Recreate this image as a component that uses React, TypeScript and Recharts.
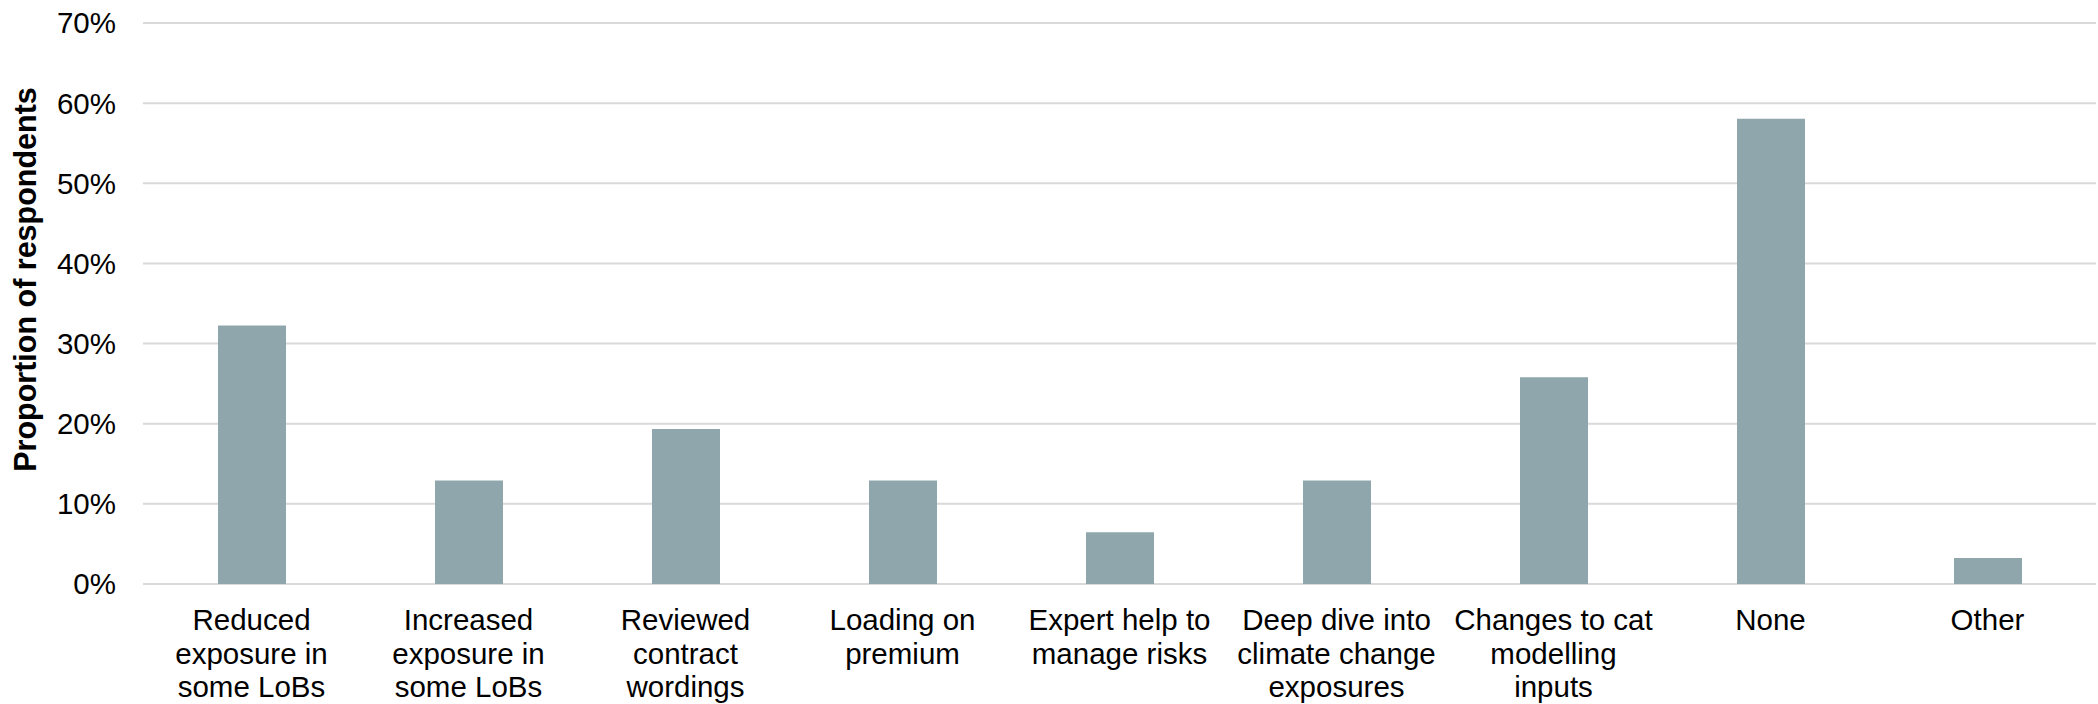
import React from "react";
import { BarChart, Bar, XAxis, YAxis, CartesianGrid } from "recharts";

// Survey responses: actions taken in response to climate change (share of respondents, %)
const categoryLines: string[][] = [
  ["Reduced", "exposure in", "some LoBs"],
  ["Increased", "exposure in", "some LoBs"],
  ["Reviewed", "contract", "wordings"],
  ["Loading on", "premium"],
  ["Expert help to", "manage risks"],
  ["Deep dive into", "climate change", "exposures"],
  ["Changes to cat", "modelling", "inputs"],
  ["None"],
  ["Other"],
];
const categories: string[] = categoryLines.map((l) => l.join(" "));
const shares: number[] = [32.26, 12.9, 19.35, 12.9, 6.45, 12.9, 25.81, 58.06, 3.23];
const yTicks: number[] = [0, 10, 20, 30, 40, 50, 60, 70];
const yAxisTitle = "Proportion of respondents";

const data = categories.map((name, i) => ({ name, value: shares[i] }));

const FONT = "Arial, 'Liberation Sans', sans-serif";
const BAR_COLOR = "#8FA7AC";
const GRID_COLOR = "#D9D9D9";

const CategoryTick = (props: any) => {
  const { x, y, payload, index } = props;
  const lines = categoryLines[index] ?? [payload.value];
  return (
    <text x={x} y={y} textAnchor="middle" fill="#000" fontFamily={FONT} fontSize={29.5}>
      {lines.map((line: string, i: number) => (
        <tspan key={i} x={x} dy={i === 0 ? 46 : 33.5}>
          {line}
        </tspan>
      ))}
    </text>
  );
};

const AxisTitle = (props: any) => {
  const { viewBox } = props;
  const cx = viewBox.x + 25;
  const cy = viewBox.y + viewBox.height / 2 - 24;
  return (
    <text
      x={cx}
      y={cy}
      transform={`rotate(-90, ${cx}, ${cy})`}
      textAnchor="middle"
      dominantBaseline="central"
      fontFamily={FONT}
      fontSize={30.5}
      fontWeight="bold"
      fill="#000"
    >
      {yAxisTitle}
    </text>
  );
};

export default function App() {
  return (
    <div style={{ position: "absolute", left: 0, top: 0, background: "#fff" }}>
      <BarChart
        width={2098}
        height={704}
        data={data}
        margin={{ top: 23, right: 2, left: 0, bottom: 0 }}
      >
        <CartesianGrid vertical={false} stroke={GRID_COLOR} strokeWidth={2} />
        <XAxis
          dataKey="name"
          axisLine={false}
          tickLine={false}
          tickSize={0}
          tickMargin={0}
          height={120}
          interval={0}
          tick={<CategoryTick />}
        />
        <YAxis
          domain={[0, 70]}
          ticks={yTicks}
          tickFormatter={(v: number) => `${v}%`}
          axisLine={false}
          tickLine={false}
          tickSize={0}
          tickMargin={27}
          width={143}
          interval={0}
          tick={{ fill: "#000", fontSize: 29.5, fontFamily: FONT }}
          label={<AxisTitle />}
        />
        <Bar dataKey="value" fill={BAR_COLOR} barSize={68} isAnimationActive={false} />
      </BarChart>
    </div>
  );
}
